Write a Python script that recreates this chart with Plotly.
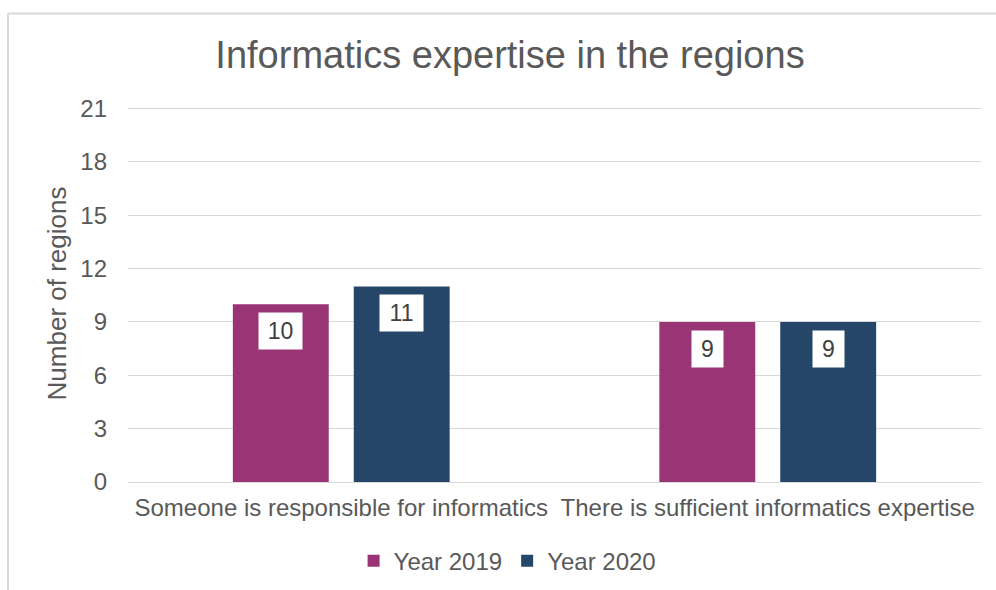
import plotly.graph_objects as go

categories = ["Someone is responsible for informatics", "There is sufficient informatics expertise"]
series_names = ["Year 2019", "Year 2020"]
values_2019 = [10, 9]
values_2020 = [11, 9]
series_colors = ["#993574", "#254669"]
y_ticks = [0, 3, 6, 9, 12, 15, 18, 21]

FONT = "Arial, Liberation Sans, sans-serif"
GREY = "#595959"

BARGAP = 0.433
BARGROUPGAP = 0.207

fig = go.Figure()
for name, vals, col in zip(series_names, [values_2019, values_2020], series_colors):
    fig.add_trace(go.Bar(name=name, x=categories, y=vals, marker=dict(color=col, line=dict(width=0))))

# white-boxed value labels just inside the top of each bar
slot = (1 - BARGAP) / 2
annotations = []
for s_idx, vals in enumerate([values_2019, values_2020]):
    offset = (s_idx - 0.5) * slot
    for c_idx, v in enumerate(vals):
        txt = str(v)
        annotations.append(dict(
            x=c_idx + offset, y=v, xref="x", yref="y", text=txt, showarrow=False,
            yanchor="top", yshift=-8, bgcolor="white", borderpad=0,
            width=19 + 12 * len(txt), height=36,
            font=dict(family=FONT, size=23, color="#404040")))

# outer chart border (top and left edges)
shapes = [
    dict(type="line", xref="paper", yref="paper", x0=-0.1407, x1=-0.1407, y0=-0.4, y1=1.2425,
         line=dict(color="#D9D9D9", width=2)),
    dict(type="line", xref="paper", yref="paper", x0=-0.1407, x1=1.2, y0=1.2425, y1=1.2425,
         line=dict(color="#D9D9D9", width=2)),
]

fig.update_layout(
    width=996, height=590,
    margin=dict(l=128, r=15, t=105, b=108, autoexpand=False),
    paper_bgcolor="white", plot_bgcolor="white",
    barmode="group", bargap=BARGAP, bargroupgap=BARGROUPGAP,
    title=dict(text="Informatics expertise in the regions", x=510 / 996, xanchor="center",
               y=1 - 55 / 590, yanchor="middle", xref="container", yref="container",
               font=dict(family=FONT, size=38, color=GREY)),
    font=dict(family=FONT, color=GREY),
    legend=dict(orientation="h", x=0.445, xanchor="center", y=-0.21, yanchor="middle",
                font=dict(family=FONT, size=24, color=GREY), itemwidth=30,
                traceorder="normal"),
    annotations=annotations,
    shapes=shapes,
)
fig.update_yaxes(range=[0, 21.2], tickvals=y_ticks, showgrid=True, gridcolor="#D9D9D9", gridwidth=1.3,
                 zeroline=False, showline=False, ticklabelstandoff=20, automargin=False,
                 tickfont=dict(family=FONT, size=24, color=GREY),
                 title=dict(text="Number of regions", font=dict(family=FONT, size=26, color=GREY), standoff=6))
fig.update_xaxes(showline=True, linecolor="#D9D9D9", linewidth=1.3, ticks="", automargin=False,
                 tickfont=dict(family=FONT, size=24, color=GREY), ticklabelstandoff=4)

fig.write_html("out.html")
